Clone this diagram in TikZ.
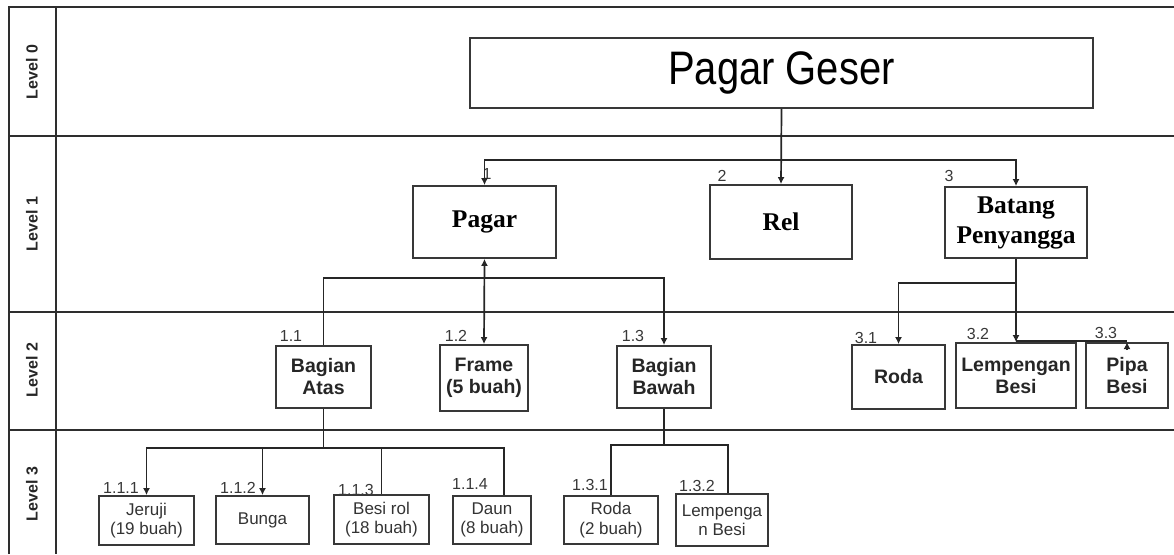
\documentclass[tikz,border=0pt]{standalone}
\usepackage{fontspec}
\setmainfont{Liberation Sans}
\newfontfamily\sansf{Liberation Sans}
\newfontfamily\seriff{Liberation Serif}
\newfontfamily\narrowf{Liberation Sans}[FakeStretch=0.85]
\usetikzlibrary{arrows.meta,calc}

\tikzset{
  grid/.style={draw=black!82, line width=2.2pt},
  box/.style={draw=black!78, line width=1.8pt, inner sep=0pt, align=center},
  topbox/.style={box, font=\narrowf\fontsize{47}{50}\selectfont},
  lvone/.style={box, font=\seriff\bfseries\fontsize{25.5}{30}\selectfont},
  lvtwo/.style={box, font=\sansf\bfseries\fontsize{19.5}{22}\selectfont, text=black!85},
  lvthree/.style={box, font=\sansf\fontsize{17}{19.5}\selectfont, text=black!80},
  lbl/.style={inner sep=0pt, font=\sansf\fontsize{16}{16}\selectfont, text=black!78},
  lvl/.style={inner sep=0pt, rotate=90, font=\sansf\bfseries\fontsize{16}{16}\selectfont, text=black!85},
  link/.style={draw=black!85, line width=1.7pt},
  tip/.tip={Latex[length=7pt,width=7pt]},
  arr/.style={link, -tip},
}

\begin{document}
\begin{tikzpicture}[x=1pt,y=-1pt]
\useasboundingbox (0,0) rectangle (1174,554);

% table frame and level rows
\draw[grid] (9,554) -- (9,7) -- (1174,7);
\draw[grid] (56,7) -- (56,554);
\draw[grid] (9,136) -- (1174,136);
\draw[grid] (9,312) -- (1174,312);
\draw[grid] (9,430) -- (1174,430);

\node[lvl] (lv0) at (32,72) {Level 0};
\node[lvl] (lv1) at (32,224) {Level 1};
\node[lvl] (lv2) at (32,370) {Level 2};
\node[lvl] (lv3) at (32,494) {Level 3};

% level 0
\node[topbox, minimum width=623pt, minimum height=70pt] (geser) at (781.5,73) {Pagar Geser};

% level 1
\node[lvone, minimum width=143pt, minimum height=72pt] (pagar) at (484.5,222) {Pagar};
\node[lvone, minimum width=142pt, minimum height=74pt] (rel) at (781,222) {Rel};
\node[lvone, minimum width=142pt, minimum height=71pt] (batang) at (1016,222.5) {Batang\\Penyangga};

% level 2
\node[lvtwo, minimum width=95pt, minimum height=62pt] (atas) at (323.5,377) {Bagian\\Atas};
\node[lvtwo, minimum width=88pt, minimum height=66pt] (frame) at (484,378) {Frame\\(5 buah)};
\node[lvtwo, minimum width=94pt, minimum height=62pt] (bawah) at (664,377) {Bagian\\Bawah};
\node[lvtwo, minimum width=93pt, minimum height=64pt] (roda) at (898.5,377) {Roda};
\node[lvtwo, minimum width=120pt, minimum height=65pt] (lemp) at (1016,375.5) {Lempengan\\Besi};
\node[lvtwo, minimum width=82pt, minimum height=65pt] (pipa) at (1127,375.5) {Pipa\\Besi};

% level 3
\node[lvthree, minimum width=95pt, minimum height=49pt] (jeruji) at (146.5,520.5) {Jeruji\\(19 buah)};
\node[lvthree, minimum width=93pt, minimum height=48pt] (bunga) at (262.5,520) {Bunga};
\node[lvthree, minimum width=95pt, minimum height=49pt] (besirol) at (381.5,519.5) {Besi rol\\(18 buah)};
\node[lvthree, minimum width=78pt, minimum height=48pt] (daun) at (492,520) {Daun\\(8 buah)};
\node[lvthree, minimum width=94pt, minimum height=48pt] (roda2) at (611,520) {Roda\\(2 buah)};
\node[lvthree, minimum width=92pt, minimum height=52pt] (lemp2) at (722,520) {Lempenga\\n Besi};

% numbering
\node[lbl] (n1) at (487,174) {1};
\node[lbl] (n2) at (722,176) {2};
\node[lbl] (n3) at (949,176) {3};
\node[lbl] (n11) at (291,336) {1.1};
\node[lbl] (n12) at (456,336) {1.2};
\node[lbl] (n13) at (633,336) {1.3};
\node[lbl] (n31) at (866,338) {3.1};
\node[lbl] (n32) at (978,334) {3.2};
\node[lbl] (n33) at (1106,333) {3.3};
\node[lbl] (n111) at (121,488) {1.1.1};
\node[lbl] (n112) at (238,488) {1.1.2};
\node[lbl] (n113) at (356,490) {1.1.3};
\node[lbl] (n114) at (470,484) {1.1.4};
\node[lbl] (n131) at (590,485) {1.3.1};
\node[lbl] (n132) at (697,486) {1.3.2};

% bus lines
\coordinate (bus0) at (781,160);
\coordinate (bus1) at (485,278);
\coordinate (bus2) at (1016,283);
\coordinate (bus3) at (1016,341);
\coordinate (bus4) at (323,448);
\coordinate (bus5) at (662,445);

% level 0 -> level 1
\draw[link] (geser.south) -- (geser.south |- bus0);
\draw[arr] (geser.south |- bus0) -| (pagar.north);
\draw[arr] (geser.south |- bus0) -| (batang.north);
\draw[arr] (geser.south) -- (rel.north);

% Pagar -> level 2
\draw[link, tip-tip] (pagar.south) -- (frame.north);
\draw[link] (pagar.south |- bus1) -| (atas.north);
\draw[arr] (pagar.south |- bus1) -| (bawah.north);

% Batang Penyangga -> level 2
\draw[arr] (batang.south) -- (lemp.north);
\draw[arr] (batang.south |- bus2) -| (roda.north);
\draw[link] (bus3) -- (pipa.north |- bus3);
\draw[arr] ([yshift=-8pt]pipa.north) -- (pipa.north);

% Bagian Atas -> level 3
\draw[link] (atas.south) -- (atas.south |- bus4);
\draw[arr] (atas.south |- bus4) -| (jeruji.north);
\draw[arr] (atas.south |- bus4) -| (bunga.north);
\draw[link] (atas.south |- bus4) -| (besirol.north);
\draw[link] (atas.south |- bus4) -| ([xshift=12pt]daun.north);

% Bagian Bawah -> level 3
\draw[link] (bawah.south) -- (bawah.south |- bus5);
\draw[link] (bawah.south |- bus5) -| (roda2.north);
\draw[link] (bawah.south |- bus5) -| ([xshift=6pt]lemp2.north);
\end{tikzpicture}
\end{document}
